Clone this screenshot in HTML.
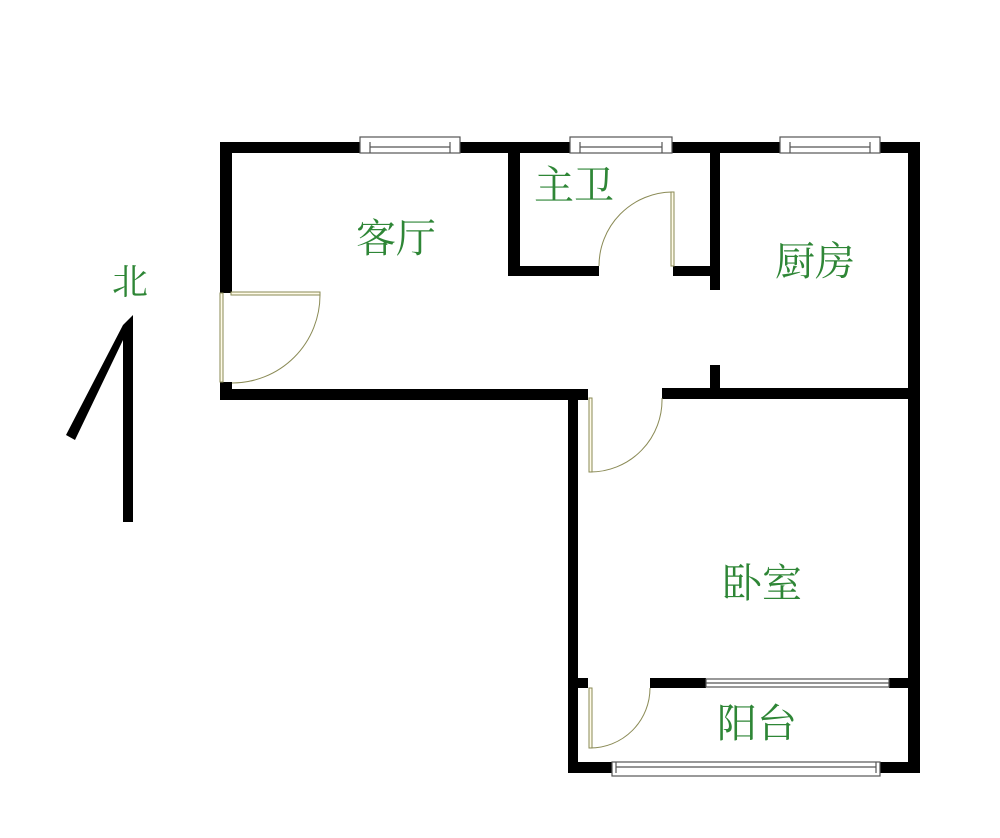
<!DOCTYPE html>
<html><head><meta charset="utf-8"><style>
html,body{margin:0;padding:0;background:#fff;}
svg{display:block;}
text{font-family:"Liberation Serif","Noto Serif CJK SC",serif;fill:#2e8636;}
</style></head><body>
<svg width="1000" height="838" viewBox="0 0 1000 838" xmlns="http://www.w3.org/2000/svg">
<rect width="1000" height="838" fill="#fff"/>
<g fill="#000">
<rect x="220" y="142" width="700" height="11"/>
<rect x="220" y="142" width="12" height="151"/>
<rect x="220" y="382" width="12" height="18"/>
<rect x="220" y="389" width="368" height="11"/>
<rect x="508" y="153" width="12" height="123"/>
<rect x="508" y="266" width="91" height="10"/>
<rect x="673" y="266" width="45" height="10"/>
<rect x="710" y="142" width="10" height="148"/>
<rect x="710" y="365" width="10" height="30"/>
<rect x="662" y="388" width="258" height="11"/>
<rect x="908" y="142" width="12" height="631"/>
<rect x="568" y="389" width="10" height="384"/>
<rect x="568" y="389" width="20" height="10"/>
<rect x="568" y="678" width="20" height="10"/>
<rect x="650" y="678" width="56" height="10"/>
<rect x="889" y="678" width="31" height="10"/>
<rect x="568" y="762" width="44" height="11"/>
<rect x="880" y="762" width="40" height="11"/>
</g>
<g fill="#fff" stroke="#555" stroke-width="1.2">
<rect x="360" y="137" width="100" height="16"/>
<rect x="570" y="137" width="102" height="16"/>
<rect x="780" y="137" width="100" height="16"/>
<rect x="612" y="762" width="268" height="14"/>
</g>
<g stroke="#555" stroke-width="1.2" fill="none">
<line x1="370" y1="147" x2="450" y2="147"/><line x1="370" y1="142" x2="370" y2="153"/><line x1="450" y1="142" x2="450" y2="153"/>
<line x1="580" y1="147" x2="662" y2="147"/><line x1="580" y1="142" x2="580" y2="153"/><line x1="662" y1="142" x2="662" y2="153"/>
<line x1="790" y1="147" x2="870" y2="147"/><line x1="790" y1="142" x2="790" y2="153"/><line x1="870" y1="142" x2="870" y2="153"/>
<line x1="616" y1="767" x2="876" y2="767"/><line x1="616" y1="762" x2="616" y2="773"/><line x1="876" y1="762" x2="876" y2="773"/>
<rect x="706" y="679" width="183" height="8" fill="#fff"/>
<line x1="706" y1="683" x2="889" y2="683"/>
</g>
<g stroke="#8a8a55" stroke-width="1" fill="none">
<rect x="231" y="292" width="89" height="3" fill="#fffbe8"/>
<rect x="220" y="293" width="3" height="89" fill="#fffbe8"/>
<path d="M320 295 A88 88 0 0 1 232 383"/>
<rect x="671" y="192" width="3" height="74" fill="#fffbe8"/>
<path d="M672 192 A74 74 0 0 0 599 266"/>
<rect x="589" y="398" width="3" height="74" fill="#fffbe8"/>
<path d="M590 472 A72 72 0 0 0 662 398"/>
<rect x="589" y="688" width="3" height="60" fill="#fffbe8"/>
<path d="M590 748 A60 60 0 0 0 650 688"/>
</g>
<polygon points="133,315 133,522 123,522 123,340 75,440 66,435 123,325" fill="#000"/>
<text x="130" y="294" font-size="36" text-anchor="middle">北</text>
<text x="396" y="252" font-size="40" text-anchor="middle">客厅</text>
<text x="574" y="199" font-size="40" text-anchor="middle">主卫</text>
<text x="815" y="275" font-size="40" text-anchor="middle">厨房</text>
<text x="762" y="597" font-size="40" text-anchor="middle">卧室</text>
<text x="757" y="737" font-size="40" text-anchor="middle">阳台</text>
</svg>
</body></html>
